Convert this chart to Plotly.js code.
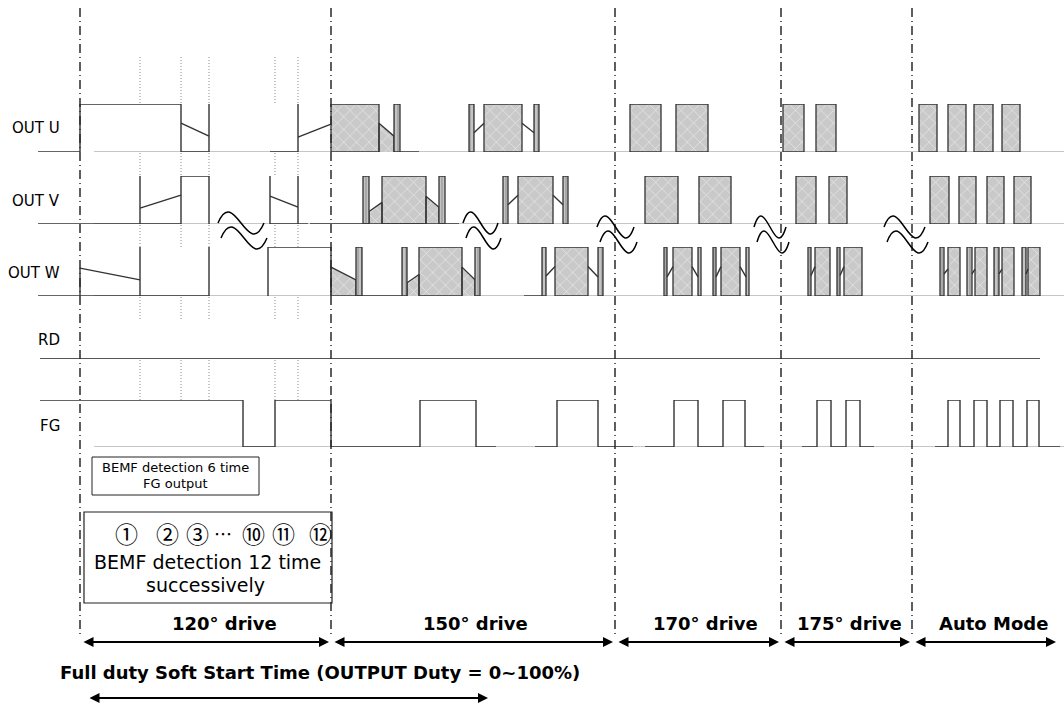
<!DOCTYPE html>
<html><head><meta charset="utf-8">
<script src="https://cdn.plot.ly/plotly-3.0.1.min.js"></script>
<style>html,body{margin:0;padding:0;background:#fff;}#chart{width:1064px;height:704px;}</style>
</head><body><div id="chart"></div>
<script>
// ================= DATA =================
// time axis units; levels 0 = low, 1 = high
const signalNames = ['OUT U', 'OUT V', 'OUT W', 'RD', 'FG'];
const phaseNames = ['120° drive', '150° drive', '170° drive', '175° drive', 'Auto Mode'];
const phaseEdges = [80, 331, 615, 781, 912, 1058];
const detectMarks = [140, 181, 209, 275, 298];
const detectLabels = ['①', '②', '③', '⋯', '⑩', '⑪', '⑫'];
const breakMarks = [218, 463, 597, 754, 884];
const breakWidths = [46, 35, 37, 32, 41];
const softStart = [88, 488];
const softStartText = 'Full duty Soft Start Time (OUTPUT Duty = 0~100%)';
const boxSmallText = ['BEMF detection 6 time', 'FG output'];
const boxBigText = ['BEMF detection 12 time', 'successively'];
const baselineSpan = [94, 1064];

// OUT U
const uOutlineX = [38,80,80,181,181,209,209,null,181,209,null,270,298,298,null,298,331,null,400,419,null,474,484,null,522,534];
const uOutlineY = [0,0,1,1,0,0,1,null,0.6,0.33,null,0,0,1,null,0.31,0.58,null,0,0,null,0.4,0.6,null,0.6,0.4];
const uBoxes = [[331,379],[484,522],[630,661],[676,708],[783,804],[816,836],[919,937],[948,966],[974,993],[1002,1020]];
const uBars = [[394,400],[469,474],[534,539]];
const uRampX = [379,379,394,394];
const uRampY = [0,0.6,0.33,0];

// OUT V
const vOutlineX = [38,140,140,null,140,181,181,209,209,null,140,181,null,270,270,298,298,null,298,308,null,270,298,null,310,459,null,508,518,null,553,563];
const vOutlineY = [0,0,1,null,0,0,1,1,0,null,0.33,0.6,null,1,0,0,1,null,0,0,null,0.58,0.35,null,0,0,null,0.4,0.6,null,0.6,0.4];
const vBoxes = [[382,426],[518,553],[645,678],[699,731],[796,816],[829,847],[930,949],[959,976],[987,1004],[1014,1031]];
const vBars = [[363,369],[439,445],[503,508],[563,568]];
const vRampX = [369,369,382,382,null,426,426,439,439];
const vRampY = [0,0.26,0.45,0,null,0,0.58,0.35,0];

// OUT W
const wOutlineX = [38,209,null,80,80,null,80,140,null,140,140,null,209,209,null,268,268,331,331,null,331,402,null,524,542,null,546,555,null,588,598,
  null,667,673,null,692,698,null,716,721,null,740,746,null,811,815,null,840,844,null,944,948,null,972,975,null,999,1002,null,1026,1028];
const wOutlineY = [0,0,null,0,0.57,null,0.57,0.33,null,0,1,null,0,1,null,0,1,1,0,null,0,0,null,0,0,null,0.41,0.6,null,0.6,0.39,
  null,0.39,0.6,null,0.6,0.39,null,0.39,0.6,null,0.6,0.39,null,0.42,0.6,null,0.42,0.6,null,0.45,0.55,null,0.45,0.55,null,0.45,0.55,null,0.45,0.55];
const wBoxes = [[419,462],[555,588],[673,692],[721,740],[815,830],[844,862],[948,960],[975,987],[1002,1014],[1028,1040]];
const wBars = [[356,362],[402,407],[475,480],[542,546],[598,603],[664,667],[698,701],[713,716],[746,749],[808,811],[837,840],[940,944],[967,972],[994,999],[1022,1026]];
const wRampX = [331,331,356,356,null,407,407,419,419,null,462,462,475,475];
const wRampY = [0,0.59,0.33,0,null,0,0.27,0.44,0,null,0,0.59,0.33,0];

// RD
const rdX = [40, 1040];
const rdY = [0, 0];

// FG
const fgX = [40,243,243,275,275,331,331,420,420,476,476,496,null,535,557,557,598,598,633,null,645,674,674,698,698,723,723,745,745,764,
  null,802,817,817,831,831,846,846,860,860,874,null,935,948,948,960,960,974,974,987,987,1000,1000,1013,1013,1027,1027,1039,1039,1060];
const fgY = [1,1,0,0,1,1,0,0,1,1,0,0,null,0,0,1,1,0,0,null,0,0,1,1,0,0,1,1,0,0,
  null,0,0,1,1,0,0,1,1,0,0,null,0,0,1,1,0,0,1,1,0,0,1,1,0,0,1,1,0,0];

// ================= LAYOUT / STYLE =================
const W = 1064, H = 704;
const rowPix = {           // [low pixel, high pixel]
  'OUT U': [152, 104], 'OUT V': [224, 176], 'OUT W': [296, 247], 'RD': [359, 321], 'FG': [447, 400]
};
const rowLabelY = {'OUT U': 128, 'OUT V': 201, 'OUT W': 273, 'RD': 340, 'FG': 426};
const axisOf = {'OUT U': 'y2', 'OUT V': 'y3', 'OUT W': 'y4', 'RD': 'y5', 'FG': 'y6'};
const phaseLabelX = [224, 475, 705, 849, 993];
const detectLabelX = [126, 167, 197, 223, 253, 283, 320];
const FONT = 'DejaVu Sans';
const INK = '#333333';

function rects(list) {
  const x = [], y = [];
  list.forEach(([a, b]) => { x.push(a, a, b, b, a, null); y.push(0, 1, 1, 0, 0, null); });
  return {x, y};
}

const hatch = {shape: 'x', size: 9, solidity: 0.14, bgcolor: '#c9c9c9', fgcolor: '#ececec', fillmode: 'replace'};
const barHatch = {shape: '|', size: 4, solidity: 0.25, bgcolor: '#c4c4c4', fgcolor: '#8c8c8c', fillmode: 'replace'};

const traces = [];
// light baselines
['OUT U', 'OUT V', 'OUT W', 'FG'].forEach(n => {
  traces.push({type: 'scatter', mode: 'lines', x: baselineSpan, y: [0, 0], yaxis: axisOf[n],
    line: {color: '#c6c6c6', width: 2}, hoverinfo: 'skip'});
});

const phaseData = [
  ['OUT U', uBoxes, uBars, uRampX, uRampY, uOutlineX, uOutlineY],
  ['OUT V', vBoxes, vBars, vRampX, vRampY, vOutlineX, vOutlineY],
  ['OUT W', wBoxes, wBars, wRampX, wRampY, wOutlineX, wOutlineY]
];
phaseData.forEach(([n, boxes, bars, rx, ry, ox, oy]) => {
  const b = rects(boxes);
  traces.push({type: 'scatter', mode: 'lines', x: b.x.concat(rx), y: b.y.concat(ry), yaxis: axisOf[n],
    fill: 'toself', fillcolor: '#c9c9c9', fillpattern: hatch,
    line: {color: INK, width: 1.3}, hoverinfo: 'skip'});
  const r = rects(bars);
  traces.push({type: 'scatter', mode: 'lines', x: r.x, y: r.y, yaxis: axisOf[n],
    fill: 'toself', fillcolor: '#c4c4c4', fillpattern: barHatch,
    line: {color: INK, width: 1.3}, hoverinfo: 'skip'});
  traces.push({type: 'scatter', mode: 'lines', x: ox, y: oy, yaxis: axisOf[n],
    line: {color: INK, width: 1.4}, hoverinfo: 'skip'});
});
traces.push({type: 'scatter', mode: 'lines', x: rdX, y: rdY, yaxis: axisOf['RD'],
  line: {color: '#555555', width: 2}, hoverinfo: 'skip'});
traces.push({type: 'scatter', mode: 'lines', x: fgX, y: fgY, yaxis: axisOf['FG'],
  line: {color: INK, width: 1.4}, hoverinfo: 'skip'});

const layout = {
  width: W, height: H, margin: {l: 0, r: 0, t: 0, b: 0},
  paper_bgcolor: '#ffffff', plot_bgcolor: '#ffffff', showlegend: false, hovermode: false,
  xaxis: {range: [0, W], visible: false, fixedrange: true},
  yaxis: {range: [H, 0], visible: false, fixedrange: true},
  shapes: [], annotations: []
};
signalNames.forEach((n, i) => {
  const [lo, hi] = rowPix[n];
  layout['yaxis' + (i + 2)] = {domain: [1 - lo / H, 1 - hi / H], range: [0, 1], visible: false, fixedrange: true, anchor: 'x'};
  layout.annotations.push({x: 62, y: rowLabelY[n], xref: 'x', yref: 'y', xanchor: 'right', yanchor: 'middle',
    text: n, showarrow: false, font: {family: FONT, size: 15, color: '#000'}});
});

// dotted detection marks
detectMarks.forEach(x => layout.shapes.push({type: 'line', xref: 'x', yref: 'y', x0: x, x1: x, y0: 57, y1: 413,
  line: {color: '#8a8a8a', width: 1, dash: '1px,2px'}, layer: 'below'}));
// phase boundaries
phaseEdges.slice(0, 5).forEach(x => layout.shapes.push({type: 'line', xref: 'x', yref: 'y', x0: x, x1: x, y0: 8, y1: 638,
  line: {color: '#2a2a2a', width: 1.5, dash: '9px,4px,1px,4px'}}));
// break squiggles
breakMarks.forEach((x0, i) => {
  const w = breakWidths[i];
  const base = i < 2 ? 223 : 227;
  [[0, base], [3, base + 15]].forEach(([dx, yc]) => {
    const a = x0 + dx;
    layout.shapes.push({type: 'path', xref: 'x', yref: 'y',
      path: `M ${a},${yc} C ${a + 0.35 * w},${yc - 38} ${a + 0.65 * w},${yc + 38} ${a + w},${yc}`,
      line: {color: '#000', width: 1.5}});
  });
});
// text boxes
layout.shapes.push({type: 'rect', xref: 'x', yref: 'y', x0: 92, x1: 259, y0: 457, y1: 495, line: {color: '#222', width: 1}, fillcolor: 'rgba(0,0,0,0)'});
layout.shapes.push({type: 'rect', xref: 'x', yref: 'y', x0: 84, x1: 332, y0: 512, y1: 603, line: {color: '#222', width: 1.2}, fillcolor: 'rgba(0,0,0,0)'});

layout.annotations.push({x: 175, y: 467, xref: 'x', yref: 'y', text: boxSmallText[0], showarrow: false, font: {family: FONT, size: 13, color: '#000'}});
layout.annotations.push({x: 175, y: 483, xref: 'x', yref: 'y', text: boxSmallText[1], showarrow: false, font: {family: FONT, size: 13, color: '#000'}});
layout.annotations.push({x: 207, y: 562, xref: 'x', yref: 'y', text: boxBigText[0], showarrow: false, font: {family: FONT, size: 19, color: '#000'}});
layout.annotations.push({x: 205, y: 585, xref: 'x', yref: 'y', text: boxBigText[1], showarrow: false, font: {family: FONT, size: 19, color: '#000'}});
detectLabels.forEach((t, i) => layout.annotations.push({x: detectLabelX[i], y: 533, xref: 'x', yref: 'y', text: t, showarrow: false,
  borderpad: 0, font: {family: 'Noto Sans CJK JP', size: i === 3 ? 18 : 23, color: '#000'}}));

// phase arrows + labels
phaseNames.forEach((t, i) => {
  const a = phaseEdges[i] + 2, b = phaseEdges[i + 1] - 2;
  layout.annotations.push({x: b, y: 642, ax: a, ay: 642, xref: 'x', yref: 'y', axref: 'x', ayref: 'y', text: '',
    showarrow: true, arrowhead: 2, startarrowhead: 2, arrowside: 'end+start', arrowsize: 1, arrowwidth: 2, arrowcolor: '#000'});
  layout.annotations.push({x: phaseLabelX[i], y: 623, xref: 'x', yref: 'y', text: '<b>' + t + '</b>', showarrow: false,
    font: {family: FONT, size: 18, color: '#000'}});
});
layout.annotations.push({x: 320, y: 672, xref: 'x', yref: 'y', text: '<b>' + softStartText + '</b>', showarrow: false,
  font: {family: FONT, size: 18, color: '#000'}});
layout.annotations.push({x: softStart[1], y: 698, ax: softStart[0], ay: 698, xref: 'x', yref: 'y', axref: 'x', ayref: 'y', text: '',
  showarrow: true, arrowhead: 2, startarrowhead: 2, arrowside: 'end+start', arrowsize: 1, arrowwidth: 2, arrowcolor: '#000'});

Plotly.newPlot('chart', traces, layout, {staticPlot: true, displayModeBar: false});
</script></body></html>
